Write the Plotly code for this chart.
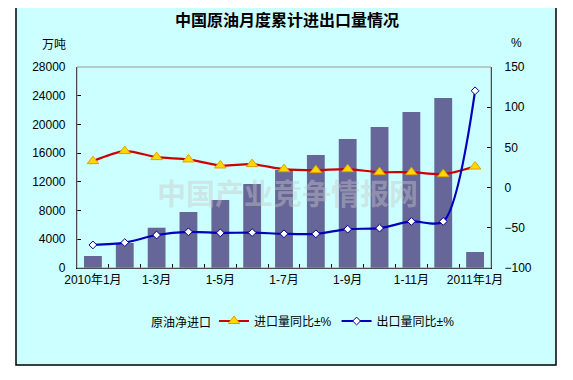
import plotly.graph_objects as go

categories = ["2010年1月", "1-2月", "1-3月", "1-4月", "1-5月", "1-6月", "1-7月",
              "1-8月", "1-9月", "1-10月", "1-11月", "1-12月", "2011年1月"]
net_import = [1670, 3480, 5610, 7800, 9470, 11700, 13650, 15740, 17970, 19640, 21730, 23680, 2230]
import_yoy = [32.9, 45.4, 37.9, 35.0, 27.5, 29.2, 22.9, 21.7, 22.9, 19.2, 19.2, 16.7, 26.2]
export_yoy = [-71.3, -68.4, -59.0, -55.0, -56.3, -56.0, -57.5, -57.5, -51.7, -50.4, -42.1, -42.1, 120.4]
tick_labels = [c if i % 2 == 0 else "" for i, c in enumerate(categories)]

FONT = "Liberation Sans, Arial, Noto Sans CJK SC"
CJK = "Noto Sans CJK SC, Liberation Sans"

# page body adds an 8px offset; figure coordinates = screen coordinates - OFF
OFF = 8
PL, PR, PT, PB = 77, 491, 67, 268  # plot area in screen pixels

fig = go.Figure()
fig.add_trace(go.Bar(
    x=categories, y=net_import, name="原油净进口",
    marker=dict(color="#666699", line=dict(width=0)),
    showlegend=False, yaxis="y",
))
fig.add_trace(go.Scatter(
    x=categories, y=import_yoy, name="进口量同比±%", yaxis="y2",
    mode="lines+markers",
    line=dict(color="#CC0000", width=2.2, shape="spline", smoothing=0.8),
    marker=dict(symbol="triangle-up", size=10, color="#FFD700",
                line=dict(color="#E0A000", width=1)),
))
fig.add_trace(go.Scatter(
    x=categories, y=export_yoy, name="出口量同比±%", yaxis="y2",
    mode="lines+markers",
    line=dict(color="#0000BB", width=2.2, shape="spline", smoothing=0.8),
    marker=dict(symbol="diamond", size=6, color="white",
                line=dict(color="#000088", width=1)),
))

def px_x(p):
    return (p - PL) / float(PR - PL)

def px_y(p):
    return (PB - p) / float(PB - PT)

W, H = 573, 380
ml = PL - OFF
mt = PT - OFF
mr = W - ml - (PR - PL)
mb = H - mt - (PB - PT)

def label(text, x, y, font):
    return dict(text=text, xref="paper", yref="paper", x=px_x(x), y=px_y(y),
                xanchor="center", yanchor="middle", showarrow=False, font=font)

fig.update_layout(
    width=W, height=H,
    margin=dict(l=ml, r=mr, t=mt, b=mb, pad=0),
    paper_bgcolor="white", plot_bgcolor="white",
    bargap=0.44,
    font=dict(family=FONT, size=12, color="black"),
    title=dict(text="<b>中国原油月度累计进出口量情况</b>", x=(287 - OFF) / W, xanchor="center",
               y=1 - (20 - OFF) / H, yanchor="middle",
               font=dict(family=CJK, size=16, color="black")),
    xaxis=dict(
        type="category", categoryorder="array", categoryarray=categories,
        tickvals=categories, ticktext=tick_labels,
        tickson="boundaries", ticks="inside", ticklen=4, tickcolor="black",
        showline=True, linecolor="black", linewidth=1.2,
        showgrid=False, tickangle=0,
        tickfont=dict(family=FONT, size=12),
        range=[-0.5, 12.5],
    ),
    yaxis=dict(
        range=[0, 28000], dtick=4000, tick0=0, tickformat="d",
        ticks="inside", ticklen=4, tickcolor="black", ticklabelstandoff=8,
        showline=True, linecolor="black", linewidth=1.2,
        showgrid=False, zeroline=False, tickfont=dict(size=12),
    ),
    yaxis2=dict(
        range=[-100, 150], dtick=50, tick0=-100, overlaying="y", side="right",
        ticks="inside", ticklen=4, tickcolor="black", ticklabelstandoff=10,
        showline=True, linecolor="black", linewidth=1.2,
        showgrid=False, zeroline=False, tickfont=dict(size=12),
    ),
    legend=dict(
        orientation="h", xref="container", yref="container",
        x=(214 - OFF) / W, y=1 - (321 - OFF) / H, xanchor="left", yanchor="middle",
        bgcolor="rgba(0,0,0,0)", font=dict(family=FONT, size=12),
        itemwidth=30, tracegroupgap=0,
    ),
    shapes=[
        dict(type="rect", xref="paper", yref="paper",
             x0=px_x(16), x1=px_x(556), y0=px_y(365), y1=px_y(4),
             fillcolor="#CCFFFF", line=dict(color="black", width=1.5), layer="below"),
        dict(type="rect", xref="paper", yref="paper",
             x0=0, x1=1, y0=0, y1=1,
             line=dict(color="#999999", width=1), layer="above"),
    ],
    annotations=[
        label("万吨", 54, 43, dict(family=CJK, size=12)),
        label("%", 516, 43, dict(family=FONT, size=12)),
        label("原油净进口", 181, 321, dict(family=CJK, size=12)),
        dict(text="<b>中国产业竞争情报网</b>", xref="paper", yref="paper",
             x=px_x(287), y=px_y(192), xanchor="center", yanchor="middle", showarrow=False,
             font=dict(family="Noto Sans CJK SC", size=29, color="rgba(200,200,200,0.45)")),
    ],
)

fig.write_html("out.html")
